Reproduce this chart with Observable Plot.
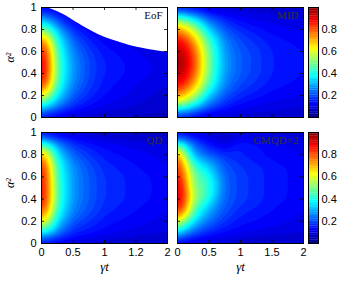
<!DOCTYPE html>
<html><head><meta charset="utf-8">
<script src="https://cdn.jsdelivr.net/npm/d3@7"></script>
<script src="https://cdn.jsdelivr.net/npm/@observablehq/plot@0.6"></script>
<style>
body{margin:0;background:#fff;}
#fig{position:relative;width:345px;height:282px;overflow:hidden;background:#fff;}
#fig svg{position:absolute;left:0;top:0;}
</style></head><body><div id="fig"></div>
<script>
// grid: columns = gammaT, rows = alpha2 (top to bottom)
const gammaT = [0, 0.1, 0.25, 0.5, 0.75, 1, 1.5, 2];
const alpha2 = [1, 0.95, 0.9, 0.8, 0.7, 0.6, 0.5, 0.4, 0.3, 0.2, 0.1, 0.05, 0];

const eofRows = [
  [0.10, null, null, null, null, null, null, null],
  [0.20, 0.17, 0.13, null, null, null, null, null],
  [0.30, 0.27, 0.20, null, null, null, null, null],
  [0.52, 0.45, 0.31, 0.18, null, null, null, null],
  [0.78, 0.68, 0.39, 0.23, 0.16, 0.13, null, null],
  [0.88, 0.80, 0.44, 0.26, 0.19, 0.15, 0.12, null],
  [0.92, 0.84, 0.46, 0.28, 0.20, 0.16, 0.13, 0.11],
  [0.92, 0.84, 0.46, 0.28, 0.20, 0.16, 0.13, 0.11],
  [0.86, 0.76, 0.43, 0.26, 0.19, 0.15, 0.12, 0.10],
  [0.65, 0.55, 0.36, 0.22, 0.17, 0.14, 0.11, 0.09],
  [0.40, 0.33, 0.25, 0.17, 0.14, 0.12, 0.10, 0.08],
  [0.25, 0.21, 0.17, 0.13, 0.11, 0.10, 0.09, 0.08],
  [0.10, 0.09, 0.09, 0.08, 0.08, 0.07, 0.07, 0.07]
];
// EoF = 0 region (white) lies above this boundary
const eofBoundaryT = [0, 0.1, 0.2, 0.3, 0.4, 0.5, 0.6, 0.7, 0.8, 1.0, 1.2, 1.4, 1.6, 1.8, 2.0];
const eofBoundaryA = [1.0, 0.995, 0.975, 0.95, 0.92, 0.885, 0.85, 0.815, 0.785, 0.73, 0.69, 0.655, 0.63, 0.61, 0.595];

const midRows = [
  [0.08, 0.08, 0.08, 0.08, 0.08, 0.08, 0.08, 0.08],
  [0.30, 0.28, 0.22, 0.15, 0.12, 0.11, 0.10, 0.09],
  [0.48, 0.45, 0.36, 0.21, 0.16, 0.13, 0.11, 0.10],
  [0.75, 0.71, 0.58, 0.33, 0.21, 0.17, 0.13, 0.12],
  [0.90, 0.86, 0.74, 0.44, 0.26, 0.20, 0.15, 0.13],
  [0.97, 0.93, 0.82, 0.49, 0.28, 0.22, 0.16, 0.14],
  [1.00, 0.96, 0.85, 0.50, 0.29, 0.22, 0.16, 0.14],
  [0.97, 0.93, 0.82, 0.49, 0.28, 0.22, 0.16, 0.14],
  [0.90, 0.86, 0.74, 0.44, 0.26, 0.20, 0.15, 0.13],
  [0.75, 0.71, 0.58, 0.33, 0.21, 0.17, 0.13, 0.12],
  [0.48, 0.45, 0.36, 0.21, 0.16, 0.13, 0.11, 0.10],
  [0.30, 0.28, 0.22, 0.15, 0.12, 0.11, 0.10, 0.09],
  [0.08, 0.08, 0.08, 0.08, 0.08, 0.08, 0.08, 0.08]
];

const qdRows = [
  [0.10, 0.09, 0.09, 0.08, 0.08, 0.07, 0.07, 0.07],
  [0.25, 0.20, 0.16, 0.13, 0.11, 0.10, 0.09, 0.08],
  [0.45, 0.38, 0.27, 0.18, 0.15, 0.13, 0.11, 0.10],
  [0.75, 0.62, 0.36, 0.23, 0.18, 0.15, 0.13, 0.11],
  [0.88, 0.74, 0.42, 0.27, 0.21, 0.17, 0.14, 0.12],
  [0.90, 0.78, 0.44, 0.28, 0.22, 0.18, 0.15, 0.13],
  [0.90, 0.80, 0.45, 0.28, 0.22, 0.18, 0.15, 0.13],
  [0.90, 0.80, 0.45, 0.28, 0.22, 0.18, 0.15, 0.13],
  [0.85, 0.72, 0.42, 0.26, 0.21, 0.17, 0.14, 0.12],
  [0.68, 0.58, 0.35, 0.22, 0.18, 0.15, 0.13, 0.11],
  [0.40, 0.36, 0.26, 0.17, 0.15, 0.13, 0.11, 0.10],
  [0.25, 0.22, 0.18, 0.14, 0.12, 0.11, 0.10, 0.09],
  [0.10, 0.09, 0.09, 0.08, 0.08, 0.08, 0.07, 0.07]
];

const gmqdRows = [
  [0.10, 0.10, 0.09, 0.08, 0.08, 0.10, 0.09, 0.09],
  [0.22, 0.20, 0.15, 0.10, 0.07, 0.12, 0.11, 0.10],
  [0.42, 0.35, 0.23, 0.15, 0.10, 0.16, 0.13, 0.11],
  [0.80, 0.55, 0.30, 0.21, 0.17, 0.16, 0.13, 0.12],
  [0.88, 0.72, 0.44, 0.33, 0.21, 0.18, 0.15, 0.13],
  [0.90, 0.80, 0.50, 0.41, 0.23, 0.19, 0.15, 0.13],
  [0.92, 0.86, 0.52, 0.43, 0.23, 0.19, 0.15, 0.13],
  [0.92, 0.88, 0.56, 0.40, 0.23, 0.19, 0.15, 0.13],
  [0.88, 0.80, 0.46, 0.30, 0.21, 0.17, 0.14, 0.12],
  [0.65, 0.50, 0.36, 0.24, 0.18, 0.15, 0.13, 0.11],
  [0.38, 0.30, 0.23, 0.17, 0.14, 0.12, 0.11, 0.10],
  [0.22, 0.18, 0.15, 0.12, 0.11, 0.10, 0.09, 0.09],
  [0.10, 0.09, 0.08, 0.08, 0.08, 0.08, 0.07, 0.07]
];

const panelLabels = ["EoF", "MID", "QD", "GMQD×2"];
const xTicks = [0, 0.5, 1, 1.5, 2];
const xTickLabelsLeft = ["0", "0.5", "1", "1.2", "2"];
const xTickLabelsRight = ["0", "0.5", "1", "1.5", "2"];
const yTicks = [0, 0.2, 0.4, 0.6, 0.8, 1];
const yTickLabels = ["0", "0.2", "0.4", "0.6", "0.8", "1"];
const cbTicks = [0.2, 0.4, 0.6, 0.8];
const cbTickLabels = ["0.2", "0.4", "0.6", "0.8"];
const xTitle = "γt";
const yTitle = "α²";

// styling
const W = 345, H = 282;
const jetDomain = [0, 0.125, 0.375, 0.625, 0.875, 1];
const jetRange = ["#000080", "#0000ff", "#00ffff", "#ffff00", "#ff0000", "#800000"];
const colorScale = {type: "linear", domain: jetDomain, range: jetRange, interpolate: "rgb", clamp: true};
const levels = d3.range(0, 1, 0.02);
const sans = "'Liberation Sans', Arial, Helvetica, sans-serif";
const serif = "'Liberation Serif', 'Times New Roman', serif";

function grid(rows) {
  const out = [];
  rows.forEach((r, i) => r.forEach((v, j) => { if (v != null) out.push({t: gammaT[j], a: alpha2[i], v}); }));
  return out;
}

const fig = document.getElementById("fig");

function panel({rows, label, box, showY, showX, xLabels, labelColor, boundary}) {
  const [x0, y0, x1, y1] = box;
  const pw = x1 - x0, ph = y1 - y0;
  const marks = [
    Plot.contour(grid(rows), {x: "t", y: "a", fill: "v", interpolate: "barycentric", thresholds: levels, pixelSize: 1, blur: 4, stroke: "none"})
  ];
  if (boundary) {
    const bd = boundary.t.map((t, i) => ({t, a: boundary.a[i]}));
    marks.push(Plot.areaY(bd, {x: "t", y1: "a", y2: 1.01, fill: "white", curve: "monotone-x"}));
  }
  // inward ticks
  marks.push(Plot.tickX(xTicks, {x: d => d, insetTop: ph - 3, stroke: "black", strokeWidth: 0.8}));
  marks.push(Plot.tickX(xTicks, {x: d => d, insetBottom: ph - 3, stroke: "black", strokeWidth: 0.8}));
  marks.push(Plot.tickY(yTicks, {y: d => d, insetRight: pw - 3, stroke: "black", strokeWidth: 0.8}));
  marks.push(Plot.tickY(yTicks, {y: d => d, insetLeft: pw - 3, stroke: "black", strokeWidth: 0.8}));
  marks.push(Plot.frame({stroke: "black", strokeWidth: 1}));
  marks.push(Plot.text([label], {text: d => d, frameAnchor: "top-right", textAnchor: "end", lineAnchor: "top", dx: -5, dy: 4, fontFamily: serif, fontSize: 11, fill: labelColor}));
  if (showY) {
    marks.push(Plot.axisY(yTicks, {tickSize: 0, tickPadding: 5, tickFormat: d => yTickLabels[yTicks.indexOf(d)], fontSize: 11, fontFamily: sans, fill: "black"}));
    marks.push(Plot.text([yTitle], {text: d => d, frameAnchor: "left", rotate: -90, dx: -31, fontFamily: serif, fontSize: 12, fontStyle: "italic", fill: "black"}));
  } else {
    marks.push(Plot.axisY({ticks: [], tickSize: 0, label: null}));
  }
  if (showX) {
    marks.push(Plot.axisX(xTicks, {tickSize: 0, tickPadding: 5, tickFormat: d => xLabels[xTicks.indexOf(d)], fontSize: 11, fontFamily: sans, fill: "black"}));
    marks.push(Plot.text([xTitle], {text: d => d, frameAnchor: "bottom", dy: 27, fontFamily: serif, fontSize: 13, fontStyle: "italic", fill: "black"}));
  } else {
    marks.push(Plot.axisX({ticks: [], tickSize: 0, label: null}));
  }
  const svg = Plot.plot({
    width: W, height: H,
    marginLeft: x0, marginRight: W - x1, marginTop: y0, marginBottom: H - y1,
    x: {domain: [0, 2], label: null},
    y: {domain: [0, 1], label: null},
    color: colorScale,
    style: {background: "transparent", overflow: "visible", fontFamily: sans},
    marks
  });
  fig.appendChild(svg);
}

function colorbar(box) {
  const [x0, y0, x1, y1] = box;
  const step = 1 / 64;
  const cbLevels = d3.range(0, 1, step);
  const svg = Plot.plot({
    width: W, height: H,
    marginLeft: x0, marginRight: W - x1, marginTop: y0, marginBottom: H - y1,
    x: {domain: [0, 1], axis: null},
    y: {domain: [0, 1], label: null},
    color: colorScale,
    style: {background: "transparent", overflow: "visible", fontFamily: sans},
    marks: [
      Plot.rect(cbLevels, {x1: 0, x2: 1, y1: d => d, y2: d => Math.min(1, d + step + 0.002), fill: d => d + step / 2}),
      Plot.frame({stroke: "black", strokeWidth: 1}),
      Plot.axisY(cbTicks, {anchor: "right", tickSize: 0, tickPadding: 3, tickFormat: d => cbTickLabels[cbTicks.indexOf(d)], fontSize: 11, fontFamily: sans, fill: "black"})
    ]
  });
  fig.appendChild(svg);
}

panel({rows: eofRows, label: panelLabels[0], box: [41, 7, 167, 117], showY: true, showX: false, labelColor: "#111",
  boundary: {t: eofBoundaryT, a: eofBoundaryA}});
panel({rows: midRows, label: panelLabels[1], box: [177, 7, 303, 117], showY: false, showX: false, labelColor: "#333"});
panel({rows: qdRows, label: panelLabels[2], box: [41, 132, 167, 243], showY: true, showX: true, xLabels: xTickLabelsLeft, labelColor: "#333"});
panel({rows: gmqdRows, label: panelLabels[3], box: [177, 132, 303, 243], showY: false, showX: true, xLabels: xTickLabelsRight, labelColor: "#333"});
colorbar([308, 7, 318, 117]);
colorbar([308, 132, 318, 243]);
</script></body></html>
